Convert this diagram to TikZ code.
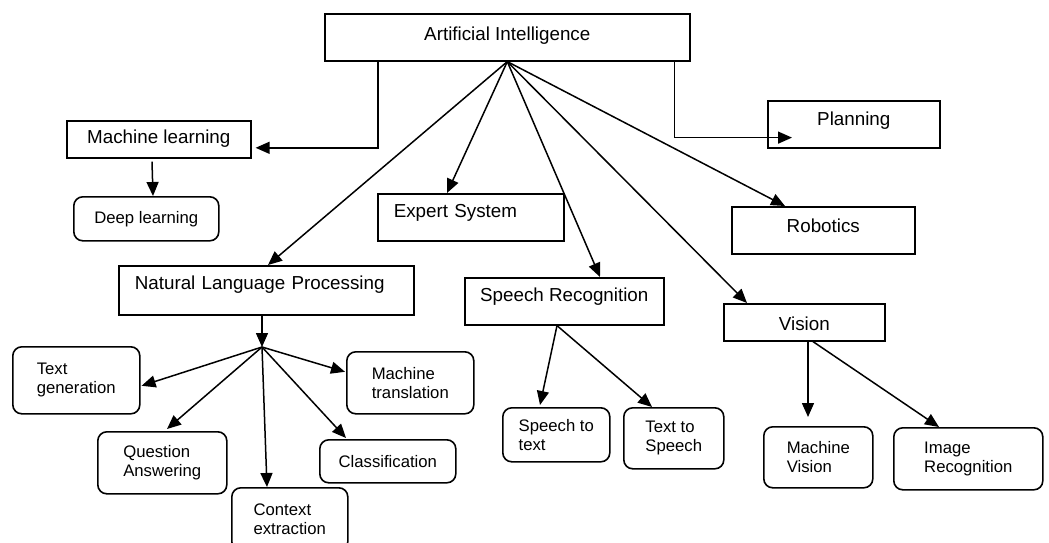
\documentclass[tikz,border=0pt]{standalone}
\usepackage{fontspec}
\setmainfont{Liberation Sans}
\usetikzlibrary{arrows.meta}

\begin{document}
\begin{tikzpicture}[
		x=1pt, y=-1pt,
		rectbox/.style = {draw, rectangle, line width=1.6pt, inner sep=0pt, anchor=north west,
				font=\fontsize{18.8}{22}\selectfont},
		roundbox/.style = {draw, rectangle, rounded corners=9pt, line width=1.6pt, inner sep=0pt,
				anchor=north west, align=left, font=\fontsize{16.7}{19}\selectfont},
		conn/.style = {-{Triangle[length=14pt,width=12pt]}, line width=1.5pt},
	]
	\path[use as bounding box] (0,0) rectangle (1049,542);
	\clip (0,0) rectangle (1049,542);
	\node[rectbox, minimum width=365pt, text height=27pt, text depth=20pt] (ai) at (324,13) {Artificial Intelligence};
	\node[rectbox, minimum width=184pt, text height=22.7pt, text depth=14.3pt] (ml) at (66,120) {Machine learning};
	\node[rectbox, inner xsep=16pt, text width=154pt, align=left, text height=24pt, text depth=23pt] (es) at (377,193) {Expert System};
	\node[rectbox, inner xsep=16pt, text width=263pt, align=left, text height=24pt, text depth=25pt] (nlp) at (118,265) {Natural Language Processing};
	\node[rectbox, minimum width=199pt, text height=24pt, text depth=23pt] (sr) at (464,277) {Speech Recognition};
	\node[rectbox, minimum width=161pt, text height=27pt, text depth=10pt] (vis) at (723,303) {Vision};
	\node[rectbox, minimum width=183pt, text height=26pt, text depth=21pt] (rob) at (731,206) {Robotics};
	\node[rectbox, minimum width=172pt, text height=24.5pt, text depth=22.5pt] (plan) at (767,100) {Planning};

	\node[roundbox, minimum width=145pt, minimum height=44pt] (dl) at (73,196) {Deep learning};
	\node[roundbox, minimum width=127pt, minimum height=67pt] (tg) at (12,346) {Text\\generation};
	\node[roundbox, minimum width=129pt, minimum height=62pt] (qa) at (97,431) {Question\\Answering};
	\node[roundbox, minimum width=116pt, minimum height=63pt] (ce) at (231,487) {Context\\extraction};
	\node[roundbox, minimum width=136pt, minimum height=43pt] (cl) at (319,439) {Classification};
	\node[roundbox, minimum width=127pt, minimum height=62pt] (mt) at (346,351) {Machine\\translation};
	\node[roundbox, minimum width=107pt, minimum height=54pt] (stt) at (502,407) {Speech to\\text};
	\node[roundbox, minimum width=100pt, minimum height=61pt] (tts) at (623,407) {Text to\\Speech};
	\node[roundbox, minimum width=109pt, minimum height=61pt] (mv) at (763,426) {Machine\\Vision};
	\node[roundbox, minimum width=149pt, minimum height=62pt] (ir) at (893,427) {Image\\Recognition};

	\draw[conn] ([xshift=54pt]ai.south west) |- ([xshift=4pt,yshift=-8.5pt]ml.east);
	\draw[conn] ([xshift=-16pt]ai.south east) |- ([xshift=25pt,yshift=11pt]plan.south west);
	\draw[conn] ([xshift=86pt,yshift=-3pt]ml.south west) -- ([xshift=80pt]dl.north west);
	\draw[conn] (ai.south) -- ([xshift=70pt]es.north west);
	\draw[conn] (ai.south) -- ([xshift=150pt]nlp.north west);
	\draw[conn] (ai.south) -- ([xshift=136pt]sr.north west);
	\draw[conn] (ai.south) -- ([xshift=24pt]vis.north west);
	\draw[conn] (ai.south) -- ([xshift=54pt]rob.north west);

	\coordinate (hub) at (262,347);
	\draw[conn] (nlp.south -| hub) -- (hub);
	\draw[conn] (hub) -- ([xshift=1pt,yshift=-5.5pt]tg.east);
	\draw[conn] (hub) -- ([xshift=70pt,yshift=2pt]qa.north west);
	\draw[conn] (hub) -- ([xshift=36pt]ce.north west);
	\draw[conn] (hub) -- ([xshift=27pt,yshift=1pt]cl.north west);
	\draw[conn] (hub) -- ([xshift=-1pt,yshift=11pt]mt.west);

	\draw[conn] ([xshift=93pt]sr.south west) -- ([xshift=38pt,yshift=2pt]stt.north west);
	\draw[conn] ([xshift=93pt]sr.south west) -- ([xshift=29pt]tts.north west);
	\draw[conn] ([xshift=85pt]vis.south west) -- ([xshift=45pt,yshift=9pt]mv.north west);
	\draw[conn] ([xshift=90pt]vis.south west) -- ([xshift=46pt]ir.north west);
\end{tikzpicture}
\end{document}
